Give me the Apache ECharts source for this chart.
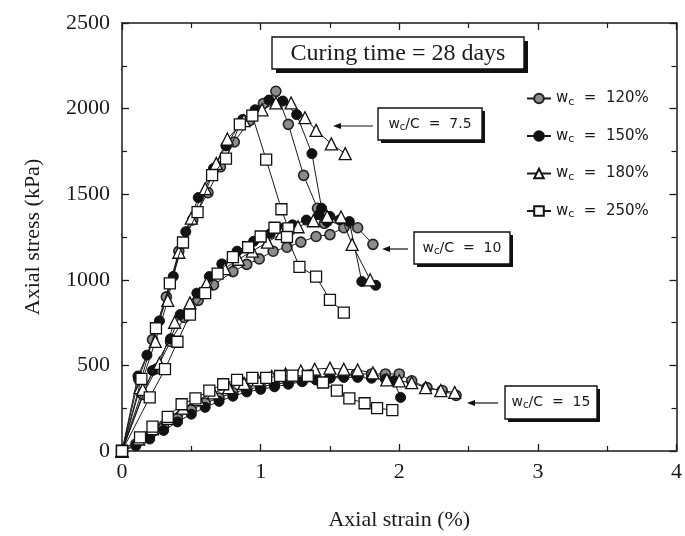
<!DOCTYPE html>
<html><head><meta charset="utf-8">
<script src="https://cdn.jsdelivr.net/npm/echarts@6/dist/echarts.min.js"></script>
<style>html,body{margin:0;padding:0;background:#fff}#c{width:685px;height:536px}</style>
</head><body><div id="c"></div>
<script>
// ---- data (axial strain %, axial stress kPa) ----
const waterContents = ['120%', '150%', '180%', '250%'];
const groupLabels = ['7.5', '10', '15'];

const wc75_120 = [[0,0],[0.12,420],[0.22,650],[0.32,900],[0.41,1167],[0.51,1350],[0.62,1509],[0.71,1660],[0.81,1805],[0.92,1930],[1.02,2030],[1.11,2101],[1.20,1908],[1.31,1610],[1.41,1418],[1.46,1330]];
const wc75_150 = [[0,0],[0.115,438],[0.18,560],[0.27,760],[0.37,1020],[0.46,1281],[0.55,1480],[0.66,1651],[0.75,1782],[0.87,1936],[0.96,1993],[1.06,2050],[1.16,2044],[1.26,1965],[1.37,1737],[1.44,1418],[1.48,1340]];
const wc75_180 = [[0,0],[0.13,370],[0.24,640],[0.33,880],[0.41,1161],[0.50,1360],[0.60,1532],[0.68,1680],[0.76,1822],[0.88,1930],[1.01,1993],[1.11,2033],[1.22,2033],[1.32,1947],[1.40,1873],[1.51,1794],[1.61,1737]];
const wc75_250 = [[0,0],[0.14,421],[0.245,717],[0.345,979],[0.44,1218],[0.545,1395],[0.65,1611],[0.75,1708],[0.85,1908],[0.94,1959],[1.04,1702],[1.15,1412],[1.20,1300]];

const wc10_120 = [[0,0],[0.15,330],[0.25,480],[0.35,640],[0.45,780],[0.55,880],[0.66,970],[0.80,1048],[0.90,1090],[0.99,1122],[1.09,1167],[1.19,1190],[1.29,1220],[1.40,1253],[1.50,1264],[1.60,1304],[1.70,1304],[1.81,1207]];
const wc10_150 = [[0,0],[0.22,470],[0.35,655],[0.42,797],[0.54,922],[0.63,1019],[0.72,1093],[0.83,1167],[0.95,1225],[1.07,1270],[1.15,1300],[1.23,1321],[1.33,1349],[1.42,1380],[1.50,1370],[1.57,1350],[1.64,1340],[1.73,990],[1.83,968]];
const wc10_180 = [[0,0],[0.15,360],[0.27,512],[0.38,752],[0.49,865],[0.61,979],[0.74,1065],[0.84,1120],[0.94,1167],[1.05,1220],[1.15,1270],[1.27,1310],[1.38,1345],[1.48,1370],[1.58,1367],[1.66,1207],[1.79,1000]];
const wc10_250 = [[0,0],[0.20,313],[0.31,478],[0.40,638],[0.49,797],[0.60,922],[0.69,1036],[0.80,1133],[0.91,1190],[1.00,1253],[1.10,1304],[1.19,1250],[1.28,1076],[1.40,1019],[1.50,883],[1.60,808]];

const wc15_120 = [[0,0],[0.1,40],[0.2,90],[0.3,140],[0.4,190],[0.5,240],[0.6,280],[0.7,310],[0.8,340],[0.9,360],[1.0,375],[1.1,390],[1.2,400],[1.3,410],[1.4,420],[1.5,430],[1.6,440],[1.69,450],[1.8,450],[1.9,450],[2.0,450],[2.09,410],[2.2,370],[2.31,353],[2.41,325]];
const wc15_150 = [[0,0],[0.1,30],[0.2,70],[0.3,120],[0.4,170],[0.5,215],[0.6,255],[0.7,290],[0.8,320],[0.9,345],[1.0,360],[1.1,375],[1.2,390],[1.3,405],[1.4,415],[1.5,425],[1.6,430],[1.7,430],[1.8,425],[1.9,420],[1.96,410],[2.01,313]];
const wc15_180 = [[0,0],[0.12,70],[0.22,130],[0.33,190],[0.44,250],[0.55,300],[0.66,340],[0.77,370],[0.88,395],[0.98,415],[1.08,435],[1.18,450],[1.29,467],[1.39,478],[1.50,484],[1.60,478],[1.70,473],[1.81,456],[1.91,416],[2.0,410],[2.09,399],[2.19,370],[2.30,353],[2.40,342]];
const wc15_250 = [[0,0],[0.13,80],[0.22,142],[0.33,199],[0.43,273],[0.53,307],[0.63,353],[0.73,390],[0.83,416],[0.94,427],[1.04,427],[1.14,438],[1.23,440],[1.34,438],[1.45,400],[1.55,353],[1.64,307],[1.75,279],[1.84,251],[1.95,239]];

const groups = [
  [wc75_120, wc75_150, wc75_180, wc75_250],
  [wc10_120, wc10_150, wc10_180, wc10_250],
  [wc15_120, wc15_150, wc15_180, wc15_250]
];

// ---- styles ----
const serif = 'Liberation Serif';
const sans = 'DejaVu Sans';
const ink = '#1a1a1a';
const markerStyles = [
  {symbol:'circle', symbolSize:10, itemStyle:{color:'#8c8c8c', borderColor:'#222', borderWidth:1.6}},
  {symbol:'circle', symbolSize:10, itemStyle:{color:'#111', borderColor:'#111', borderWidth:1}},
  {symbol:'triangle', symbolSize:12, itemStyle:{color:'#fff', borderColor:'#111', borderWidth:1.3}},
  {symbol:'rect', symbolSize:11, itemStyle:{color:'#fff', borderColor:'#111', borderWidth:1.3}}
];

const series = [];
groups.forEach(function(g){
  g.forEach(function(d, i){
    series.push(Object.assign({
      type:'line', name: waterContents[i], data: d,
      xAxisIndex:0, yAxisIndex:0,
      lineStyle:{color:ink, width:1},
      showAllSymbol:true, animation:false, z: 2 + i
    }, markerStyles[i]));
  });
});

function shadowBox(x, y, w, h, off){
  return [
    {type:'rect', shape:{x:x+off, y:y+off, width:w, height:h}, style:{fill:'#111'}, z:100},
    {type:'rect', shape:{x:x, y:y, width:w, height:h}, style:{fill:'#fff', stroke:'#111', lineWidth:1.4}, z:101}
  ];
}
function arrow(x1, x2, y){
  return [
    {type:'line', shape:{x1:x1, y1:y, x2:x2+6, y2:y}, style:{stroke:'#111', lineWidth:1.2}, z:100},
    {type:'polygon', shape:{points:[[x2,y],[x2+8,y-3],[x2+8,y+3]]}, style:{fill:'#111'}, z:100}
  ];
}
const labelRich = {
  a:{fontFamily:sans, fontSize:14, fill:ink, color:ink},
  s:{fontFamily:sans, fontSize:10, fill:ink, color:ink, padding:[7,0,0,0]}
};
const legendRich = {
  a:{fontFamily:sans, fontSize:15, color:ink},
  s:{fontFamily:sans, fontSize:11, color:ink, padding:[7,0,0,0]}
};
function wcLabel(cx, cy, val){
  return {type:'text', x:cx, y:cy, z:102,
    style:{text:'{a|w}{s|c}{a|/C  =  ' + val + '}', rich:labelRich, align:'center', verticalAlign:'middle', fill:ink}};
}

const graphic = [].concat(
  shadowBox(272, 37, 252, 32, 4),
  [{type:'text', x:398, y:54, z:102, style:{text:'Curing time = 28 days', font:'24px "Liberation Serif"', fill:ink, align:'center', verticalAlign:'middle'}}],
  shadowBox(378, 108, 104, 32, 3), wcLabel(430, 124, groupLabels[0]), arrow(373, 333, 126),
  shadowBox(414, 232, 96, 32, 3), wcLabel(462, 248, groupLabels[1]), arrow(408, 382, 249),
  shadowBox(505, 386, 92, 33, 3), wcLabel(551, 402, groupLabels[2]), arrow(498, 467, 403)
);

function axisCommon(){
  return {
    axisLine:{show:true, onZero:false, lineStyle:{color:ink, width:1.5}},
    axisTick:{inside:true, length:7, lineStyle:{color:ink, width:1.3}},
    minorTick:{show:true, splitNumber:2, length:5, lineStyle:{color:ink, width:1.2}},
    splitLine:{show:false}
  };
}

const option = {
  animation:false,
  backgroundColor:'#fff',
  grid:{left:122, top:23, right:7, bottom:74, containLabel:false},
  xAxis:[
    Object.assign(axisCommon(), {type:'value', min:0, max:4, interval:1, position:'bottom',
      name:'Axial strain (%)', nameLocation:'middle', nameGap:58,
      nameTextStyle:{fontFamily:serif, fontSize:22, color:ink},
      axisLabel:{fontFamily:serif, fontSize:22, color:ink, margin:10}}),
    Object.assign(axisCommon(), {type:'value', min:0, max:4, interval:1, position:'top', axisLabel:{show:false}})
  ],
  yAxis:[
    Object.assign(axisCommon(), {type:'value', min:0, max:2500, interval:500, position:'left',
      name:'Axial stress (kPa)', nameLocation:'middle', nameGap:78, nameRotate:90,
      nameTextStyle:{fontFamily:serif, fontSize:22, color:ink},
      axisLabel:{fontFamily:serif, fontSize:22, color:ink, margin:12, formatter:function(v){return String(v);}}}),
    Object.assign(axisCommon(), {type:'value', min:0, max:2500, interval:500, position:'right', axisLabel:{show:false}})
  ],
  legend:{
    data: waterContents, orient:'vertical', left:521, top:86,
    itemWidth:24, itemHeight:12, itemGap:21,
    formatter:function(n){ return '{a|w}{s|c}{a|  =  ' + n + '}'; },
    textStyle:{rich:legendRich, fontFamily:sans, fontSize:15, color:ink},
    selectedMode:false
  },
  series: series,
  graphic: graphic
};

const chart = echarts.init(document.getElementById('c'), null, {renderer:'canvas'});
chart.setOption(option);
</script>
</body></html>
